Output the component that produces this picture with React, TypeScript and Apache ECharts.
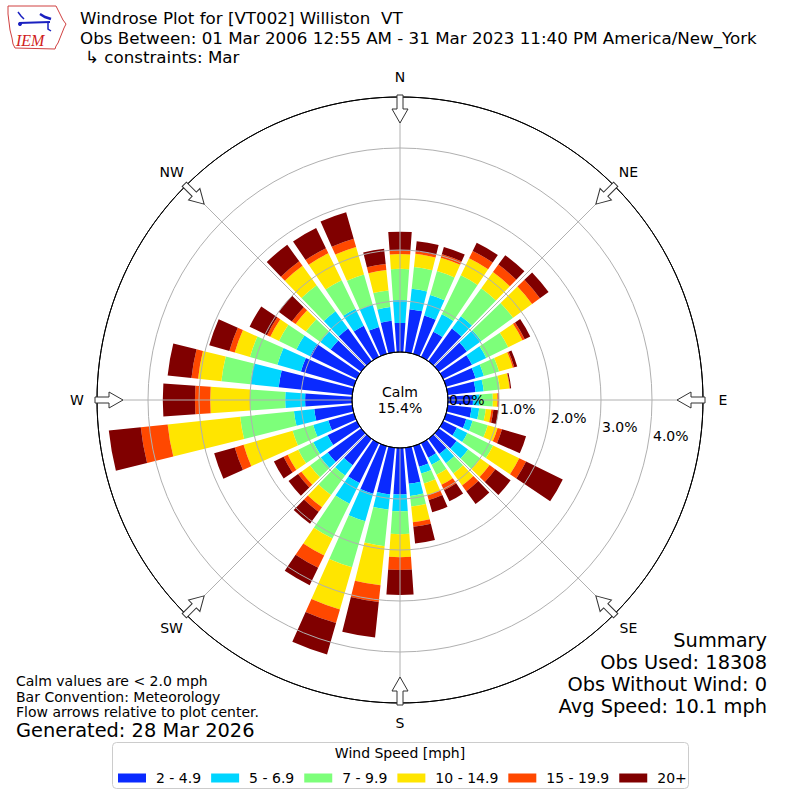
import React, { useEffect, useRef } from 'react';
import * as echarts from 'echarts';

// Direction bins (degrees, meteorological: direction the wind blows FROM)
const directions = ['0','10','20','30','40','50','60','70','80','90','100','110','120','130','140','150','160','170','180','190','200','210','220','230','240','250','260','270','280','290','300','310','320','330','340','350'];

// Speed classes (mph) and colours
const speedBins = ['2 - 4.9', '5 - 6.9', '7 - 9.9', '10 - 14.9', '15 - 19.9', '20+'];
const binColors = ['#0a2aff', '#00d5ff', '#7dff7a', '#ffe500', '#ff4800', '#800000'];

// Frequency (%) per direction for each speed class
const pct2to5 = [0.57,0.85,0.78,0.55,0.79,0.68,0.63,0.60,0.55,0.49,0.47,0.41,0.30,0.43,0.37,0.32,0.42,0.71,0.91,0.92,0.97,0.87,0.64,0.81,0.64,0.52,0.75,0.92,1.45,1.08,1.02,0.74,0.79,0.68,0.55,0.62];
const pct5to7 = [0.45,0.40,0.42,0.38,0.30,0.35,0.31,0.17,0.16,0.13,0.15,0.13,0.23,0.28,0.22,0.15,0.14,0.24,0.33,0.30,0.56,0.45,0.25,0.17,0.31,0.31,0.40,0.39,0.56,0.48,0.30,0.25,0.42,0.37,0.45,0.27];
const pct7to10 = [0.61,0.43,0.49,0.85,0.68,0.77,0.48,0.31,0.32,0.26,0.13,0.31,0.56,0.30,0.25,0.22,0.20,0.21,0.45,0.72,0.94,0.76,0.47,0.26,0.33,0.42,1.06,0.69,0.57,0.56,0.38,0.35,0.63,0.62,0.62,0.33];
const pct10to15 = [0.29,0.26,0.27,0.37,0.39,0.46,0.31,0.28,0.19,0.09,0.11,0.20,0.57,0.22,0.29,0.22,0.24,0.31,0.45,0.77,0.86,0.37,0.30,0.21,0.23,1.00,1.43,0.78,0.46,0.31,0.19,0.25,0.47,0.59,0.56,0.40];
const pct15to20 = [0.07,0.05,0.07,0.16,0.18,0.19,0.05,0.03,0.01,0.02,0.04,0.09,0.15,0.14,0.14,0.12,0.10,0.09,0.25,0.33,0.28,0.27,0.11,0.08,0.09,0.18,0.53,0.30,0.13,0.11,0.07,0.09,0.11,0.11,0.17,0.12];
const pct20plus = [0.37,0.20,0.15,0.18,0.23,0.21,0.12,0.06,0.02,0.01,0.10,0.49,0.80,0.37,0.31,0.24,0.25,0.33,0.49,0.70,0.64,0.38,0.29,0.23,0.21,0.42,0.63,0.63,0.47,0.41,0.38,0.32,0.40,0.44,0.54,0.30];
const speedSeries = [pct2to5, pct5to7, pct7to10, pct10to15, pct15to20, pct20plus];

// Radial ticks (%) and compass labels
const ringTicks = [0, 1, 2, 3, 4];
const compassNames = ['N', 'NE', 'E', 'SE', 'S', 'SW', 'W', 'NW'];
const compassBearings = [0, 45, 90, 135, 180, 225, 270, 315];

const calmPercent = 15.4;
const titleLines = [
  'Windrose Plot for [VT002] Williston  VT',
  'Obs Between: 01 Mar 2006 12:55 AM - 31 Mar 2023 11:40 PM America/New_York',
  '↳ constraints: Mar',
];
const noteLines = ['Calm values are < 2.0 mph', 'Bar Convention: Meteorology', 'Flow arrows relative to plot center.'];
const generatedText = 'Generated: 28 Mar 2026';
const summaryLines = ['Summary', 'Obs Used: 18308', 'Obs Without Wind: 0', 'Avg Speed: 10.1 mph'];
const legendTitle = 'Wind Speed [mph]';

const FONT = 'DejaVu Sans';
const CX = 400;
const CY = 400;
const R_INNER = 48;
const R_OUTER = 303;
const R_MAX = 5;

const ARROW_PATH = 'M -3 -28 L 3 -28 L 3 -14 L 8 -14 L 0 0 L -8 -14 L -3 -14 Z';
const IOWA_PATH = 'M 8 6 L 56 6 L 58 10 L 61 16 L 63 20 L 66 24 L 64 28 L 62 33 L 60 38 L 58 43 L 56 46 L 55 49 L 15 48 L 13 44 L 12 38 L 10 30 L 9 22 L 8 14 Z';

export default function App() {
  const ref = useRef<HTMLDivElement>(null);

  useEffect(() => {
    if (!ref.current) return;
    echarts.graphic.registerShape('windArrow', echarts.graphic.extendPath(ARROW_PATH, {}) as any);
    echarts.graphic.registerShape('iowaShape', echarts.graphic.extendPath(IOWA_PATH, {}) as any);

    const chart = echarts.init(ref.current, null, { renderer: 'svg', width: 800, height: 800 });

    const series = speedBins.map((name, i) => ({
      name,
      type: 'bar',
      coordinateSystem: 'polar',
      polarIndex: 0,
      stack: 'wind',
      data: speedSeries[i],
      barWidth: '80%',
      itemStyle: { color: binColors[i] },
      silent: true,
      z: 2,
    }));

    chart.setOption({
      animation: false,
      textStyle: { fontFamily: FONT },
      polar: [
        { center: [CX, CY], radius: [R_INNER, R_OUTER] },
        { center: [CX, CY], radius: [R_INNER, R_OUTER] },
      ],
      angleAxis: [
        {
          polarIndex: 0,
          type: 'category',
          data: directions,
          startAngle: 95,
          clockwise: true,
          show: false,
        },
        {
          polarIndex: 1,
          type: 'value',
          min: 0,
          max: 360,
          interval: 45,
          startAngle: 90,
          clockwise: true,
          z: 5,
          axisLine: { show: true, lineStyle: { color: '#000', width: 1 } },
          axisTick: { show: false },
          axisLabel: { show: false },
          splitLine: { show: true, lineStyle: { color: '#b0b0b0', width: 1 } },
        },
      ],
      radiusAxis: [
        { polarIndex: 0, type: 'value', min: 0, max: R_MAX, show: false },
        {
          polarIndex: 1,
          type: 'value',
          min: 0,
          max: R_MAX,
          interval: 1,
          z: 5,
          axisLine: { show: false },
          axisTick: { show: false },
          axisLabel: { show: false },
          splitLine: {
            show: true,
            lineStyle: { color: ['#000', '#b0b0b0', '#b0b0b0', '#b0b0b0', '#b0b0b0', '#000'], width: 1 },
          },
        },
      ],
      legend: {
        data: speedBins,
        left: 113,
        top: 766,
        orient: 'horizontal',
        icon: 'rect',
        itemWidth: 28,
        itemHeight: 9,
        itemGap: 10,
        selectedMode: false,
        textStyle: { fontFamily: FONT, fontSize: 14, color: '#000', padding: [0, 0, 0, 5] },
      },
      series,
    });

    const pt = (v: number, bearing: number): number[] =>
      chart.convertToPixel({ polarIndex: 1 } as any, [v, bearing]) as unknown as number[];
    const pxPerUnit = (R_OUTER - R_INNER) / R_MAX;

    const elements: any[] = [];

    // Logo
    elements.push({
      type: 'iowaShape', x: 0, y: 0, z: 10,
      style: { fill: '#fff', stroke: '#d04040', lineWidth: 1 },
    });
    elements.push({
      type: 'polyline', z: 11,
      shape: { points: [[19, 23], [50, 22]] },
      style: { stroke: '#1a20c0', lineWidth: 2 },
    });
    elements.push({
      type: 'polyline', z: 11,
      shape: { points: [[18, 12], [21, 16], [24, 19]] },
      style: { stroke: '#1a20c0', lineWidth: 1.5 },
    });
    elements.push({
      type: 'polyline', z: 11,
      shape: { points: [[40, 14], [45, 17], [51, 19]] },
      style: { stroke: '#1a20c0', lineWidth: 2.5 },
    });
    elements.push({
      type: 'polyline', z: 11,
      shape: { points: [[48, 22], [48, 29], [51, 31]] },
      style: { stroke: '#1a20c0', lineWidth: 1.5 },
    });
    elements.push({ type: 'circle', z: 11, shape: { cx: 20, cy: 24, r: 2 }, style: { fill: '#1a20c0' } });
    elements.push({
      type: 'text', z: 11,
      style: { x: 16, y: 40, text: 'IEM', fontFamily: 'Liberation Serif', fontStyle: 'italic', fontSize: 16, lineHeight: 16, fill: '#d02020', textAlign: 'left', textVerticalAlign: 'middle' },
    });

    // Title
    titleLines.forEach((t, i) => {
      elements.push({
        type: 'text', z: 10,
        style: { x: i === 2 ? 85 : 80, y: 18 + i * 19.6, text: t, fontFamily: FONT, fontSize: 16.7, lineHeight: 17, fill: '#000', textAlign: 'left', textVerticalAlign: 'middle' },
      });
    });

    // Compass labels and flow arrows
    compassNames.forEach((name, i) => {
      const p = pt(R_MAX + 20 / pxPerUnit, compassBearings[i]);
      elements.push({
        type: 'text', z: 10,
        style: { x: p[0], y: p[1], text: name, fontFamily: FONT, fontSize: 14, fill: '#000', textAlign: 'center', textVerticalAlign: 'middle' },
      });
      const tip = pt((277 - R_INNER) / pxPerUnit, compassBearings[i]);
      elements.push({
        type: 'windArrow', z: 12,
        x: tip[0], y: tip[1],
        rotation: (-compassBearings[i] * Math.PI) / 180,
        style: { fill: '#fff', stroke: '#333', lineWidth: 1 },
      });
    });

    // Ring labels
    ringTicks.forEach((v) => {
      const p = pt(v, 90);
      elements.push({
        type: 'text', z: 12,
        style: { x: p[0] + 1, y: p[1] + v * 9, text: `${v.toFixed(1)}%`, fontFamily: FONT, fontSize: 14, fill: '#000', textAlign: 'left', textVerticalAlign: 'middle' },
      });
    });

    // Calm
    elements.push({
      type: 'text', z: 12,
      style: { x: CX, y: CY - 8, text: 'Calm', fontFamily: FONT, fontSize: 14, lineHeight: 15, fill: '#000', textAlign: 'center', textVerticalAlign: 'middle' },
    });
    elements.push({
      type: 'text', z: 12,
      style: { x: CX, y: CY + 8, text: `${calmPercent.toFixed(1)}%`, fontFamily: FONT, fontSize: 14, lineHeight: 15, fill: '#000', textAlign: 'center', textVerticalAlign: 'middle' },
    });

    // Notes (bottom left)
    noteLines.forEach((t, i) => {
      elements.push({
        type: 'text', z: 10,
        style: { x: 16, y: 681 + i * 15.5, text: t, fontFamily: FONT, fontSize: 14, lineHeight: 15, fill: '#000', textAlign: 'left', textVerticalAlign: 'middle' },
      });
    });
    elements.push({
      type: 'text', z: 10,
      style: { x: 16, y: 730, text: generatedText, fontFamily: FONT, fontSize: 19.4, lineHeight: 20, fill: '#000', textAlign: 'left', textVerticalAlign: 'middle' },
    });

    // Summary (bottom right)
    summaryLines.forEach((t, i) => {
      elements.push({
        type: 'text', z: 10,
        style: { x: 767, y: 640 + i * 22, text: t, fontFamily: FONT, fontSize: 19.4, lineHeight: 21, fill: '#000', textAlign: 'right', textVerticalAlign: 'middle' },
      });
    });

    // Legend frame + title
    elements.push({
      type: 'rect', z: 0,
      shape: { x: 112.5, y: 742.5, width: 576, height: 46, r: 4 },
      style: { fill: '#fff', stroke: '#cccccc', lineWidth: 1 },
    });
    elements.push({
      type: 'text', z: 10,
      style: { x: 400, y: 753, text: legendTitle, fontFamily: FONT, fontSize: 14, lineHeight: 15, fill: '#000', textAlign: 'center', textVerticalAlign: 'middle' },
    });

    chart.setOption({ graphic: { elements } });

    return () => chart.dispose();
  }, []);

  return (
    <div
      ref={ref}
      style={{ position: 'absolute', left: 0, top: 0, width: 800, height: 800, background: '#fff' }}
    />
  );
}
